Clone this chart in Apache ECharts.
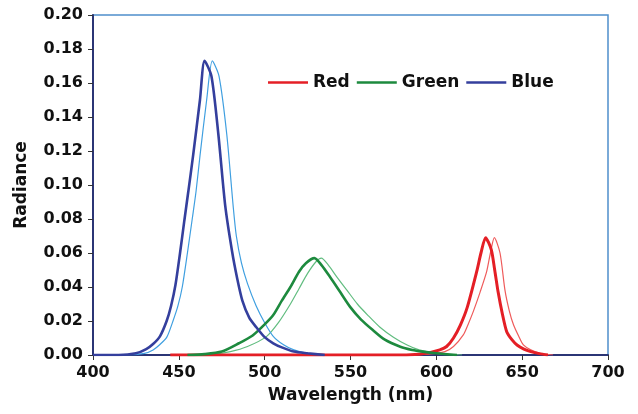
<!DOCTYPE html>
<html>
<head>
<meta charset="utf-8">
<script src="https://cdn.jsdelivr.net/npm/echarts@6/dist/echarts.min.js"></script>
<style>html,body{margin:0;padding:0;background:#fff}#c{width:638px;height:414px}</style>
</head>
<body>
<div id="c"></div>
<script>
// Axis ticks
var xTicks = [400, 450, 500, 550, 600, 650, 700];
var yTicks = [0, 0.02, 0.04, 0.06, 0.08, 0.10, 0.12, 0.14, 0.16, 0.18, 0.20];
var legendNames = ['Red', 'Green', 'Blue'];

// Blue (thick and thin curves)
var blueThickX = [400, 415, 425, 431, 435, 439, 442.9, 445.5, 448, 450.7, 453.2, 455.5, 458.4, 462.3, 465, 469, 473, 477, 481, 484, 487, 491, 495, 500, 505, 510, 517, 525, 535];
var blueThickY = [0, 0, 0.001, 0.0035, 0.0065, 0.011, 0.020, 0.029, 0.041, 0.060, 0.079, 0.096, 0.118, 0.150, 0.173, 0.164, 0.130, 0.088, 0.061, 0.045, 0.032, 0.022, 0.0165, 0.0105, 0.0069, 0.0045, 0.002, 0.001, 0];
var blueThinX = [400, 420, 430, 435, 439, 443, 446.6, 449.5, 452, 455, 457.8, 460, 462.3, 466.2, 469.5, 473.4, 477.9, 481.7, 483.5, 486.5, 490, 495, 500, 505, 511, 517, 525, 540];
var blueThinY = [0, 0, 0.001, 0.003, 0.0062, 0.0105, 0.020, 0.029, 0.040, 0.060, 0.080, 0.096, 0.117, 0.150, 0.173, 0.164, 0.130, 0.087, 0.070, 0.054, 0.042, 0.029, 0.019, 0.011, 0.006, 0.003, 0.001, 0];

// Green
var greenThickX = [455, 465, 475, 485, 493, 500, 505, 510, 515, 520, 524, 529, 533, 538, 544, 550, 556, 563, 570, 579, 586, 592, 600, 612];
var greenThickY = [0, 0.0005, 0.002, 0.0069, 0.0115, 0.018, 0.0235, 0.032, 0.040, 0.049, 0.054, 0.057, 0.053, 0.046, 0.037, 0.028, 0.021, 0.0147, 0.009, 0.0049, 0.003, 0.002, 0.001, 0];
var greenThinX = [460, 470, 480, 490, 501, 508, 515, 520, 525, 530, 533, 537, 542, 548, 554, 560, 567, 575, 583, 590, 600, 615];
var greenThinY = [0, 0.0005, 0.002, 0.005, 0.0108, 0.019, 0.030, 0.039, 0.048, 0.055, 0.057, 0.053, 0.046, 0.038, 0.030, 0.0235, 0.0165, 0.0105, 0.0059, 0.003, 0.001, 0];

// Red
var redThickX = [445, 575, 590, 596, 602, 606, 610, 614, 618, 623.5, 626, 628.7, 632, 634, 636, 638.5, 641, 644, 647, 651, 655, 660, 665];
var redThickY = [0, 0, 0.0005, 0.0014, 0.003, 0.005, 0.010, 0.0176, 0.028, 0.049, 0.060, 0.069, 0.062, 0.050, 0.037, 0.024, 0.0137, 0.009, 0.0059, 0.0035, 0.002, 0.0008, 0];
var redThinX = [580, 595, 605, 610, 615.7, 618.5, 621.5, 625.5, 629.3, 631.5, 633.8, 637.1, 640, 642.5, 645, 648, 650.7, 655, 660.4, 668];
var redThinY = [0, 0.0005, 0.002, 0.005, 0.0118, 0.018, 0.0255, 0.037, 0.049, 0.060, 0.069, 0.060, 0.038, 0.026, 0.0176, 0.011, 0.0059, 0.003, 0.001, 0];

function pairs(xs, ys) { return xs.map(function (x, i) { return [x, ys[i]]; }); }

var FONT = 'DejaVu Sans';
var colors = {
  redThick: '#e41f26', redThin: '#ef5b5b',
  greenThick: '#1d8a3e', greenThin: '#62bd80',
  blueThick: '#343f9d', blueThin: '#3f9fe0'
};

function line(name, data, color, width, z) {
  return {
    name: name, type: 'line', data: data, symbol: 'none', smooth: 0.25,
    lineStyle: { color: color, width: width }, itemStyle: { color: color },
    z: z, animation: false, clip: true
  };
}

var chart = echarts.init(document.getElementById('c'), null, { renderer: 'canvas' });
chart.setOption({
  backgroundColor: '#ffffff',
  animation: false,
  grid: { left: 93, right: 30, top: 15, bottom: 59, show: true, borderColor: '#4f8fcc', borderWidth: 1.5, backgroundColor: 'transparent' },
  legend: {
    data: legendNames,
    icon: 'rect',
    left: 263, top: 69,
    itemWidth: 40, itemHeight: 2.5, itemGap: 7,
    textStyle: { fontFamily: FONT, fontWeight: 'bold', fontSize: 17, color: '#111' }
  },
  xAxis: {
    type: 'value', min: 400, max: 700, interval: 50,
    name: 'Wavelength (nm)', nameLocation: 'middle', nameGap: 32,
    nameTextStyle: { fontFamily: FONT, fontWeight: 'bold', fontSize: 17, color: '#111' },
    axisLine: { show: true, onZero: false, lineStyle: { color: '#2b3575', width: 2 } },
    axisTick: { show: true, length: 5, lineStyle: { color: '#333' } },
    axisLabel: { margin: 10, fontFamily: FONT, fontWeight: 'bold', fontSize: 16, color: '#111',
      formatter: function (v) { return xTicks.indexOf(v) >= 0 ? String(v) : ''; } },
    splitLine: { show: false }
  },
  yAxis: {
    type: 'value', min: 0, max: 0.2, interval: 0.02,
    name: 'Radiance', nameLocation: 'middle', nameGap: 63, nameRotate: 90,
    nameTextStyle: { fontFamily: FONT, fontWeight: 'bold', fontSize: 17, color: '#111' },
    axisLine: { show: true, lineStyle: { color: '#2b3575', width: 2 } },
    axisTick: { show: true, length: 5, lineStyle: { color: '#333' } },
    axisLabel: { margin: 10, fontFamily: FONT, fontWeight: 'bold', fontSize: 16, color: '#111',
      formatter: function (v) {
        var t = yTicks.filter(function (k) { return Math.abs(k - v) < 1e-9; });
        return t.length ? t[0].toFixed(2) : '';
      } },
    splitLine: { show: false }
  },
  series: [
    line('Red (thin)', pairs(redThinX, redThinY), colors.redThin, 1.2, 2),
    line('Green (thin)', pairs(greenThinX, greenThinY), colors.greenThin, 1.2, 2),
    line('Blue (thin)', pairs(blueThinX, blueThinY), colors.blueThin, 1.2, 2),
    line('Red', pairs(redThickX, redThickY), colors.redThick, 3, 3),
    line('Green', pairs(greenThickX, greenThickY), colors.greenThick, 2.6, 3),
    line('Blue', pairs(blueThickX, blueThickY), colors.blueThick, 2.6, 3)
  ]
});
</script>
</body>
</html>
